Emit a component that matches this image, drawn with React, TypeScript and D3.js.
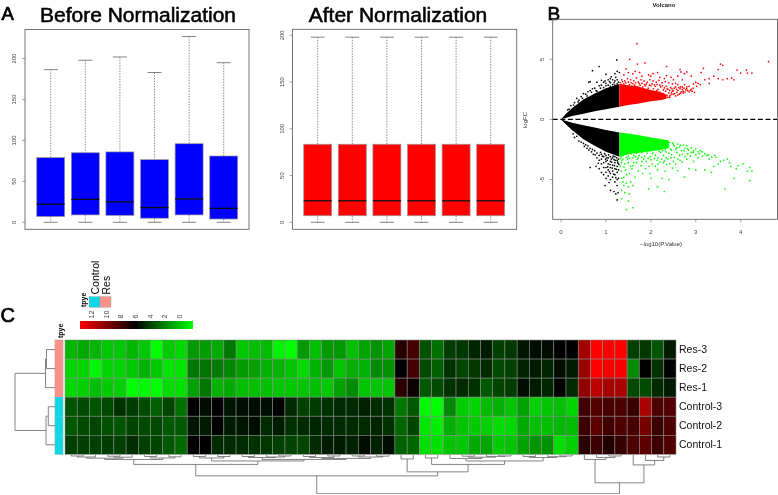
import React from "react";
import * as d3 from "d3";

// ---------- Panel A data ----------
const beforeHigh = [186.5, 198, 202, 183, 227, 195];
const beforeQ3 = [79, 85, 86, 76.5, 96, 81];
const beforeMedian = [22, 28, 25, 18, 28.5, 17];
const beforeQ1 = [7, 9, 8.5, 5, 9, 4];
const beforeLow = [0, 0, 0, 0, 0, 0];
const afterHigh = [198, 198, 198, 198, 198, 198];
const afterQ3 = [83.5, 83.5, 83.5, 83.5, 83.5, 83.5];
const afterMedian = [23, 23, 23, 23, 23, 23];
const afterQ1 = [7, 7, 7, 7, 7, 7];
const afterLow = [0, 0, 0, 0, 0, 0];
const boxTicks = [0, 50, 100, 150, 200];

// ---------- Panel B data ----------
const wedgeX = [0, 0.1, 0.25, 0.5, 0.75, 1, 1.3];
const wedgeUpperTop = [0, 0.42, 0.95, 1.65, 2.15, 2.6, 2.95];
const wedgeUpperBottom = [0, 0.12, 0.28, 0.48, 0.68, 0.85, 1.05];
const wedgeLowerTop = [0, -0.12, -0.28, -0.48, -0.68, -0.88, -1.08];
const wedgeLowerBottom = [0, -0.38, -0.9, -1.65, -2.2, -2.7, -3.1];
const redX = [1.3, 1.5, 1.7, 1.85, 2.0, 2.2, 2.35];
const redBottom = [1.05, 1.2, 1.3, 1.4, 1.5, 1.6, 1.72];
const redTop = [2.95, 2.85, 2.75, 2.6, 2.45, 2.3, 2.05];
const greenX = [1.3, 1.5, 1.8, 2.0, 2.2, 2.4];
const greenTop = [-1.08, -1.18, -1.35, -1.5, -1.62, -1.75];
const greenBottom = [-3.1, -2.9, -2.75, -2.65, -2.55, -2.4];

const blackDots: [number, number][] = [
  [0.7,4.05],[0.85,4.4],[1.24,4.95],[1,3.75],[1.25,4],[1.3,3.9],[1.2,3.8],[0.62,3.1],[0.65,3.15],[0.8,3.1],[0.9,3.25],[1.05,3.3],[1.1,3.4],[1.15,3.3],[0.95,3.1],[1,3],[1.2,3.2],[1.25,3.3],[1.1,3.05],[0.75,2.6],[0.6,2.3],[0.5,2.15],[0.45,1.9],[0.35,1.75],[0.3,1.4],[0.22,1.15],[0.28,1.2],[0.55,2.1],[0.65,2.4],[0.7,2.55],[0.85,2.8],[0.9,2.85],[1,2.8],[1.05,2.85],[1.15,2.9],[1.25,2.95],[0.95,2.65],[0.8,2.35],[0.4,1.6],[1.1,2.75],[1.28,3.1],[1.2,2.85],[0.18,0.85],[0.15,0.8],[0.38,1.45],[0.48,1.75],[0.58,1.95],[0.68,2.25],[0.78,2.4],[0.88,2.6],[0.98,3.2],[1.08,3.15],[1.18,3.05],[1.22,3.5],[1.12,3.55],
  [0.27,-1.2],[0.3,-1.5],[0.35,-1.4],[0.4,-1.8],[0.45,-1.9],[0.5,-2],[0.55,-2.1],[0.6,-2.2],[0.65,-2.4],[0.7,-2.5],[0.72,-2.9],[0.75,-2.6],[0.8,-2.8],[0.8,-3.2],[0.85,-3],[0.85,-3.4],[0.9,-2.9],[0.9,-3.3],[0.9,-3.7],[0.95,-3.1],[0.95,-3.6],[0.95,-4],[1,-3],[1,-3.5],[1,-4],[1,-4.4],[1,-4.9],[1.05,-3.2],[1.05,-3.7],[1.05,-4.2],[1.05,-4.7],[1.1,-3.1],[1.1,-3.5],[1.1,-4],[1.1,-4.5],[1.1,-5],[1.15,-3.2],[1.15,-3.8],[1.15,-4.3],[1.15,-4.8],[1.2,-3.1],[1.2,-3.6],[1.2,-4.1],[1.2,-4.6],[1.2,-5.2],[1.25,-3.4],[1.25,-3.9],[1.25,-4.4],[1.25,-5],[1.25,-5.5],[1.28,-3.3],[1.28,-4.2],[1.28,-4.9],[0.98,-5.5],[1.1,-5.9],[1.18,-6],[1.22,-6.2],[1.27,-6.1],[1.25,-6.7],[0.65,-4],[0.78,-3.9],[0.85,-4.1],[0.9,-4.4],[0.95,-4.6],[1.03,-3.4],[1.08,-4.35],[1.13,-3.55],[1.18,-3.35],[1.22,-4.85],[1.17,-4.55],[1.07,-5.25],[1.27,-3.65],[1.23,-4.15],[0.92,-3.05],[0.88,-2.75],[0.83,-3.65],[1.02,-3.2],[1.04,-3.95],[1.12,-3.3],[1.14,-4.05],[1.16,-3.05],[1.21,-3.4],[1.24,-3.2],[1.26,-3.55],[1.29,-3.75],[1.19,-3.85],[1.09,-3.75],[0.99,-3.3],[0.97,-2.85],[1.06,-2.95],[0.76,-2.95],[0.68,-2.7],[0.62,-2.55],[0.58,-2.4],[0.52,-2.25],
];

const redDots: [number, number][] = [
  [1.69,6.3],[1.53,5],[1.7,4.6],[1.87,4.7],[2.35,4.4],[4.62,4.8],[3.55,4.6],[3.6,4.5],[3.5,4.15],[3.92,4.1],[4.13,4.1],[4,3.85],[4.15,3.85],[4.25,3.85],[3.17,4.25],[3.4,3.6],[3.5,3.4],[3.6,3.3],[3.3,3.4],[3.12,3.9],[3.7,3.4],[3.8,3.45],[3.85,3.3],[2.65,4.15],[2.67,3.95],[2.8,3.95],[2.75,3.8],[2.9,3.6],[3,3.1],[3.05,3],[3.2,3.3],[3.3,3],[2.95,2.95],[2.8,2.7],[2.7,2.5],
  [1.45,4.2],[1.4,3.7],[1.5,3.9],[1.6,3.8],[1.65,4],[1.75,3.9],[1.8,3.6],[1.95,3.7],[2,3.6],[2.05,3.8],[2.15,3.9],[2.2,3.5],[2.3,3.4],[2.35,3.65],[2.45,3.5],[2.5,3.3],[2.6,3.6],[2.7,3.3],[2.55,3],[1.35,3.3],[1.42,3.2],[1.48,3.4],[1.55,3.3],[1.62,3.2],[1.68,3.45],[1.72,3.1],[1.78,3.3],[1.85,3.2],[1.92,3.1],[1.98,3.3],[2.05,3.2],[2.12,3.1],[2.18,3.25],[2.25,3.05],[2.32,3.15],[2.4,3.05],[2.48,2.95],[2.6,2.9],[2.66,2.7],[2.75,2.9],[2.85,2.75],[2.9,2.5],
  [1.35,2.85],[1.4,2.95],[1.46,2.8],[1.52,2.9],[1.58,2.75],[1.64,2.85],[1.7,2.7],[1.76,2.85],[1.82,2.7],[1.88,2.8],[1.94,2.6],[2,2.8],[2.06,2.55],[2.1,2.75],[2.16,2.5],[2.22,2.7],[2.28,2.45],[2.34,2.75],[2.38,2.5],[2.44,2.65],[2.5,2.4],[2.55,2.7],[2.6,2.4],[2.65,2.55],[2.72,2.35],[2.78,2.45],[2.85,2.3],[2.92,2.35],[2.97,2.25],
  [1.88,2.3],[1.92,2],[1.95,2.4],[2,2.1],[2.03,2.3],[2.07,1.85],[2.1,2.15],[2.13,2.4],[2.17,1.95],[2.2,2.25],[2.25,1.9],[2.28,2.15],[2.33,2.35],[2.36,2],[2.4,2.2],[2.45,2.05],[2.48,2.35],[2.53,2.15],[2.58,2.25],[2.63,2.1],[2.68,2.3],[2.05,1.65],[2.12,1.7],[2.18,1.75],[2.24,1.7],[2.3,1.8],[1.9,1.55],[1.95,1.6],[2.01,1.95],[2.38,1.85],[2.42,1.95],
  [1.32,3.05],[1.37,3.15],[1.44,3.05],[1.5,3.1],[1.56,3.05],[1.6,2.98],[1.66,3.05],[1.74,2.98],[1.8,3],[1.86,2.9],[1.9,2.95],[1.97,2.85],[2.03,2.95],[2.08,2.88],[2.14,2.9],[2.2,2.85],[2.26,2.8],[2.3,2.62],[2.36,2.55],[2.42,2.42],[2.47,2.55],[2.52,2.6],[2.57,2.5],[2.62,2.65],[2.7,2.7],[2.74,2.6],[2.8,2.55],[2.42,1.82],[2.46,2.2],[2.5,2.1],[2.55,1.95],[2.6,2.02],[2.66,2.18],[2.72,2.2],[2.76,2.28],[2.82,2.4],[2.88,2.42],[2.94,2.6],[3.02,2.75],[3.1,2.9],
];

const greenDots: [number, number][] = [
  [1.46,-7.5],[1.6,-7.35],[1.35,-6.6],[1.5,-6.8],[3.65,-5.8],[2.3,-6],[1.95,-5.8],[2.15,-5.6],[4.2,-5.1],[4.25,-4.3],[4.15,-4.3],[4.2,-4],[4.05,-3.7],[3.9,-4.1],[3.85,-4.9],[1.35,-5.9],[1.4,-5.5],[1.45,-5.3],[1.5,-5.6],[1.55,-5.2],[1.6,-5.5],[1.65,-4.8],[1.35,-4.9],[1.4,-4.8],[1.82,-4.5],[1.98,-4.5],[2.0,-4.9],[2.25,-4.9],[2.4,-5],[2.75,-4.8],[2.85,-4.1],[3,-4.2],[3.2,-4.2],[3.35,-4.4],[3.4,-3.9],[3.5,-3.7],[3.55,-3.5],[3.7,-3.3],[3.75,-3.6],[3.78,-3.9],[3.3,-3.3],[3.15,-3.05],[3.25,-3],[3.05,-3.2],[2.95,-3.5],[2.8,-3.3],[2.65,-3.4],[2.55,-3.7],[2.45,-3.2],[2.35,-3.75],[2.2,-3.55],[2.1,-3.9],[2.03,-3.7],[1.9,-3.5],[1.78,-3.85],[1.7,-3.3],[1.62,-3.6],[1.55,-3.9],[1.48,-3.3],[1.42,-3.7],[1.36,-3.4],[1.32,-3.9],[1.34,-3.1],[1.44,-4.2],[1.52,-4.5],[1.58,-4.1],[1.72,-4.3],[1.88,-4.1],[2.15,-4.2],[2.32,-4.3],[2.48,-4.05],[2.6,-4.25],[3.45,-3.15],[3.62,-3.4],[3.95,-3.85],
  [1.33,-2.95],[1.38,-3],[1.44,-2.9],[1.5,-3.05],[1.56,-2.85],[1.62,-3],[1.68,-2.8],[1.74,-3],[1.8,-2.75],[1.86,-3.05],[1.92,-2.8],[1.98,-3.1],[2.04,-2.8],[2.1,-3],[2.16,-3.2],[2.22,-2.75],[2.28,-3],[2.34,-3.2],[2.4,-2.8],[2.46,-2.95],[2.52,-3.15],[2.58,-2.75],[2.64,-3],[2.7,-2.9],[2.76,-3.1],[2.82,-2.85],[2.88,-3.05],[2.94,-2.75],[3,-2.95],
  [2.2,-2.3],[2.24,-1.85],[2.28,-2.1],[2.32,-2.55],[2.36,-1.8],[2.4,-2.2],[2.44,-2.45],[2.48,-1.95],[2.52,-2.2],[2.56,-2.5],[2.6,-2.05],[2.64,-2.3],[2.68,-2.6],[2.72,-2.15],[2.76,-2.4],[2.8,-2.2],[2.84,-2.55],[2.9,-2.35],[2.95,-2.6],[3,-2.45],[3.05,-2.7],[3.1,-2.6],[2.26,-2.6],[2.34,-2.7],[2.18,-2.65],[2.12,-2.5],[2.05,-2.55],[1.98,-2.6],
  [1.32,-3.25],[1.38,-3.3],[1.46,-3.15],[1.52,-3.25],[1.6,-3.2],[1.66,-3.1],[1.72,-3.2],[1.8,-3.15],[1.84,-3.3],[1.94,-3.25],[2,-3.35],[2.08,-3.25],[2.14,-3.4],[2.24,-3.3],[2.3,-3.45],[2.38,-3.3],[2.5,-3.5],[2.6,-3.3],[2.7,-3.55],[2.46,-2.55],[2.42,-1.9],[2.5,-2.05],[2.58,-2.35],[2.66,-2.15],[2.74,-2.6],[2.82,-2.45],[2.9,-2.75],[3.08,-2.85],[3.14,-2.7],[3.2,-2.85],[3.28,-2.95],[3.36,-3.15],[3.42,-3],
  [1.34,-3.6],[1.4,-3.95],[1.5,-3.6],[1.6,-3.85],[1.68,-3.6],[1.8,-3.5],[1.96,-3.9],[2.16,-3.7],[2.28,-3.6],[2.42,-3.7],[1.34,-4.3],[1.46,-4.6],[1.38,-5.2],[1.42,-6.1],[1.52,-6.2],
];

// ---------- Panel C data (0 = green, 6 = black, 12 = red) ----------
const rowLabels = ["Res-3", "Res-2", "Res-1", "Control-3", "Control-2", "Control-1"];
const rowTypes = ["Res", "Res", "Res", "Control", "Control", "Control"];
const res3 = [1.7,2,1.7,1.3,1.3,1.7,1.3,0,1.2,0.9,2.4,2.3,2,3.2,1.3,1.5,1.6,0.3,0,2.4,1.5,2.4,2.4,1.5,2.1,2.5,2.1,6.9,7.6,4.1,3.4,4.6,4.7,5.1,5.4,4.5,4.7,5.5,5.6,5.8,5.9,6,9.8,12,11.8,12,4.5,4.7,4,5.3];
const res2 = [1,1,0.2,1,1,1.3,1.8,1.3,0.6,0.6,3.2,3.3,3.1,2.8,2.3,2.2,1.8,1.8,1.4,0.9,1.8,2.4,1.4,1.9,1.8,2.7,2.6,6,7.6,4.3,3.8,4.8,4.4,4.7,5,4.3,4.5,5.2,5.4,5.1,5.6,5.3,9.6,12,11.7,11.8,2.7,6,4.8,6.1];
const res1 = [0.9,1.1,1.5,1.2,1.1,0,0.1,0,0.8,0.7,2.2,3.2,1.8,2,1.5,1.5,1.5,1.3,1.3,1.4,1.5,1.3,2.2,2.7,1.4,1.4,1.4,7,6.4,3.9,4.2,4.8,5,4.8,3.9,4.4,4.6,5.6,5.3,5.1,6,5,9.4,10.4,9.9,10,4.2,4.3,5,5.3];
const control3 = [4,4.2,4,4.3,4.8,4.6,4.2,3.8,4.4,3.4,6,5.6,6,5.5,5.6,5.7,5.7,5.9,5,4.5,4.6,4.8,5,5,5.2,4.9,4.8,3.2,3.9,0.2,0,2.8,1.2,1,1.6,1.8,1.4,2.2,1.1,1.4,1.5,1,7.5,8,7.7,7.8,7.3,10,7.8,8];
const control2 = [3.9,4.2,4.4,4.1,4,4.4,4.2,4.3,3.9,3.9,5.5,5.3,5.9,5.3,5.5,5.6,5,5.4,4.8,5,5.1,5,5,5,5,5.1,4.8,3.6,4.4,0.6,0.4,1.9,1.4,1.2,1.1,0.8,0.9,2,1.5,1.5,1.7,1.6,7.4,8.2,7.5,7.9,7.7,8.8,7.3,7.8];
const control1 = [4.6,4.5,4.5,4.6,4.5,4.9,4.5,4.4,3.9,3.5,6,6,5,5,5,4.8,4.7,4.5,4.4,4.4,5,5.3,5.4,5.2,5.6,5.2,5.8,3.7,3.6,0.8,0.7,1.4,1.3,2,2.1,1.2,1.4,2.2,2.5,2.6,0.8,1.1,7,7.4,6.8,7.3,7.8,8.2,7.4,7.9];
const heatRows = [res3, res2, res1, control3, control2, control1];
const colorbarTicks = [12, 10, 8, 6, 4, 2, 0];

type TreeNode = number | [number, TreeNode, TreeNode];
const rowTree: TreeNode = [40, [9.5, [8.5, 0, 1], 2], [9, [6.7, 3, 4], 5]];
const colTree: TreeNode = [39,
  [21,
    [9.5,
      [4.5,
        [3.2, [2, [1, 0, 1], 2], [2.2, [1.2, 3, 4], 5]],
        [3, [1.5, 6, 7], [1.8, 8, 9]]],
      [6,
        [3, [1.5, 10, 11], [1.5, 12, 13]],
        [4.5,
          [2.5, [1.5, 14, 15], [2, 16, [1, 17, 18]]],
          [3.5, [2.5, [1.5, 19, 20], [1, 21, 22]], [2, [1, 23, 24], [1.2, 25, 26]]]]]],
    [17,
      [4, 27, 28],
      [9.5,
        [3, 29, 30],
        [6,
          [3.5, 31, [2.2, [1.2, 32, 33], [1.4, 34, [1, 35, 36]]]],
          [2.5, [1.5, 37, 38], [1.7, 39, [1, 40, 41]]]]]]],
  [28,
    [4.5, 42, [2.5, 43, [1, 44, 45]]],
    [10, 46, [5.5, 47, [2, 48, 49]]]]];

// ---------- Drawing helpers ----------
const FONT = "'Liberation Sans', Arial, sans-serif";
const GREY = "#666";

function treePath(node: TreeNode, pos: (i: number) => number, dep: (h: number) => number, vertical: boolean) {
  const path = d3.path();
  const walk = (n: TreeNode): [number, number] => {
    if (typeof n === "number") return [pos(n), 0];
    const [h, a, b] = n;
    const [pa, ha] = walk(a);
    const [pb, hb] = walk(b);
    const pt = (p: number, v: number): [number, number] => (vertical ? [p, dep(v)] : [dep(v), p]);
    path.moveTo(...pt(pa, ha));
    path.lineTo(...pt(pa, h));
    path.lineTo(...pt(pb, h));
    path.lineTo(...pt(pb, hb));
    return [(pa + pb) / 2, h];
  };
  walk(node);
  return path.toString();
}

interface BoxProps {
  title: string; titleX: number; color: string;
  x0: number; x1: number; yTop: number; yBottom: number;
  y: d3.ScaleLinear<number, number>; firstCenter: number; lastCenter: number;
  high: number[]; q3: number[]; median: number[]; q1: number[]; low: number[];
}

function BoxPanel(p: BoxProps) {
  const xs = d3.scaleLinear().domain([0, p.high.length - 1]).range([p.firstCenter, p.lastCenter]);
  return (
    <g>
      <text x={p.titleX} y={21.5} fontSize={21} textAnchor="middle" fontFamily={FONT} fill="#000" stroke="#000" strokeWidth={0.55}>{p.title}</text>
      {p.high.map((h, i) => {
        const c = xs(i);
        return (
          <g key={i}>
            <line x1={c} x2={c} y1={p.y(h)} y2={p.y(p.q3[i])} stroke="#777" strokeWidth={0.8} strokeDasharray="1.5 1.2" />
            <line x1={c} x2={c} y1={p.y(p.q1[i])} y2={p.y(p.low[i])} stroke="#777" strokeWidth={0.8} strokeDasharray="1.5 1.2" />
            <line x1={c - 7} x2={c + 7} y1={p.y(h)} y2={p.y(h)} stroke="#777" strokeWidth={0.9} />
            <line x1={c - 7} x2={c + 7} y1={p.y(p.low[i])} y2={p.y(p.low[i])} stroke="#777" strokeWidth={0.9} />
            <rect x={c - 14} width={28} y={p.y(p.q3[i])} height={p.y(p.q1[i]) - p.y(p.q3[i])} fill={p.color} stroke="#999" strokeWidth={0.7} />
            <line x1={c - 14} x2={c + 14} y1={p.y(p.median[i])} y2={p.y(p.median[i])} stroke="#111" strokeWidth={1.3} />
          </g>
        );
      })}
      <rect x={p.x0} y={p.yTop} width={p.x1 - p.x0} height={p.yBottom - p.yTop} fill="none" stroke={GREY} strokeWidth={0.9} />
      {boxTicks.map((t) => (
        <g key={t}>
          <line x1={p.x0 - 3} x2={p.x0} y1={p.y(t)} y2={p.y(t)} stroke={GREY} strokeWidth={0.6} />
          <text transform={`translate(${p.x0 - 9},${p.y(t)}) rotate(-90)`} fontSize={6} textAnchor="middle" fill="#444" fontFamily={FONT}>{t}</text>
        </g>
      ))}
    </g>
  );
}

export default function App() {
  // Panel A
  const yBefore = d3.scaleLinear().domain([0, 200]).range([222.3, 58.6]);
  const yAfter = d3.scaleLinear().domain([0, 200]).range([222.3, 35.3]);

  // Panel B
  const vx = d3.scaleLinear().domain([0, 4]).range([561, 740.7]);
  const vy = d3.scaleLinear().domain([-5, 5]).range([179.5, 59.3]);
  const band = (xs: number[], top: number[], bottom: number[]) =>
    d3.area<number>().x((_, i) => vx(xs[i])).y0((_, i) => vy(bottom[i])).y1((_, i) => vy(top[i]))(xs) ?? "";

  // Panel C
  const colIdx = d3.range(res3.length);
  const cx = d3.scaleBand<number>().domain(colIdx).range([65, 676]);
  const cy = d3.scaleBand<number>().domain(d3.range(rowLabels.length)).range([340, 454.3]);
  const heat = d3.scaleLinear<string>().domain([0, 6, 12]).range(["#00ff00", "#000000", "#ff0000"]);
  const typeColor = d3.scaleOrdinal<string>().domain(["Control", "Res"]).range(["#0fd6e6", "#fb918b"]);
  const barScale = d3.scaleLinear().domain([12, 0]).range([91.7, 179.7]);
  const colCenter = (i: number) => (cx(i) ?? 0) + cx.bandwidth() / 2;
  const rowCenter = (i: number) => (cy(i) ?? 0) + cy.bandwidth() / 2;
  const rowDep = d3.scaleLinear().domain([0, 40]).range([55, 15]);
  const colDep = d3.scaleLinear().domain([0, 39]).range([455, 493.7]);

  return (
    <svg width={778} height={495} viewBox="0 0 778 495" style={{ position: "absolute", left: 0, top: 0 }}>
      <defs>
        <filter id="soft" x="0" y="0" width="100%" height="100%">
          <feGaussianBlur stdDeviation="0.35" />
        </filter>
        <linearGradient id="cbar">
          <stop offset="0" stopColor="#ff0000" />
          <stop offset="0.49" stopColor="#000000" />
          <stop offset="1" stopColor="#00ff00" />
        </linearGradient>
      </defs>
      <rect width={778} height={495} fill="#fff" />
      <g filter="url(#soft)">
        <text x={1.5} y={20} fontSize={18.5} fontFamily={FONT} stroke="#000" strokeWidth={0.7}>A</text>
        <text x={547.5} y={20} fontSize={19} fontFamily={FONT} stroke="#000" strokeWidth={0.7}>B</text>
        <text x={0.5} y={322} fontSize={20} fontFamily={FONT} stroke="#000" strokeWidth={0.7}>C</text>

        <BoxPanel title="Before Normalization" titleX={138} color="#0000ff" x0={25} x1={249} yTop={29.5} yBottom={229.3}
          y={yBefore} firstCenter={50.7} lastCenter={223.7}
          high={beforeHigh} q3={beforeQ3} median={beforeMedian} q1={beforeQ1} low={beforeLow} />
        <BoxPanel title="After Normalization" titleX={398} color="#ff0000" x0={292.5} x1={516.7} yTop={29.3} yBottom={229.3}
          y={yAfter} firstCenter={317.7} lastCenter={490.7}
          high={afterHigh} q3={afterQ3} median={afterMedian} q1={afterQ1} low={afterLow} />

        {/* Volcano */}
        <text x={664} y={6.5} fontSize={6} fontWeight="bold" textAnchor="middle" fontFamily={FONT} fill="#222">Volcano</text>
        <path d={band(wedgeX, wedgeUpperTop, wedgeUpperBottom)} fill="#000" />
        <path d={band(wedgeX, wedgeLowerTop, wedgeLowerBottom)} fill="#000" />
        <path d={band(redX, redTop, redBottom)} fill="#ff0000" />
        <path d={band(greenX, greenTop, greenBottom)} fill="#00ff00" />
        {blackDots.map((d, i) => <circle key={`k${i}`} cx={vx(d[0])} cy={vy(d[1])} r={0.85} fill="#000" />)}
        {redDots.map((d, i) => <circle key={`r${i}`} cx={vx(d[0])} cy={vy(d[1])} r={0.85} fill="#ff0000" />)}
        {greenDots.map((d, i) => <circle key={`g${i}`} cx={vx(d[0])} cy={vy(d[1])} r={0.85} fill="#00ff00" />)}
        <line x1={552.7} x2={777.5} y1={vy(0)} y2={vy(0)} stroke="#000" strokeWidth={1.3} strokeDasharray="5 2.6" />
        <rect x={552.7} y={19.3} width={224.8} height={200} fill="none" stroke={GREY} strokeWidth={0.9} />
        {[-5, 0, 5].map((t) => (
          <g key={t}>
            <line x1={549.7} x2={552.7} y1={vy(t)} y2={vy(t)} stroke={GREY} strokeWidth={0.6} />
            <text transform={`translate(543.5,${vy(t)}) rotate(-90)`} fontSize={6} textAnchor="middle" fill="#444" fontFamily={FONT}>{t}</text>
          </g>
        ))}
        {[0, 1, 2, 3, 4].map((t) => (
          <g key={t}>
            <line x1={vx(t)} x2={vx(t)} y1={219.3} y2={222.3} stroke={GREY} strokeWidth={0.6} />
            <text x={vx(t)} y={233.5} fontSize={6} textAnchor="middle" fill="#444" fontFamily={FONT}>{t}</text>
          </g>
        ))}
        <text transform="translate(527,120) rotate(-90)" fontSize={6} textAnchor="middle" fill="#333" fontFamily={FONT}>logFC</text>
        <text x={661} y={245.5} fontSize={6} textAnchor="middle" fill="#333" fontFamily={FONT}>−log10(P.Value)</text>

        {/* Heatmap legend */}
        <text transform="translate(86,307) rotate(-90)" fontSize={7} fontWeight="bold" fontFamily={FONT}>tpye</text>
        <rect x={89} y={296.7} width={11} height={10.5} fill={typeColor("Control")} stroke="#999" strokeWidth={0.4} />
        <rect x={100} y={296.7} width={11} height={10.5} fill={typeColor("Res")} stroke="#999" strokeWidth={0.4} />
        <text transform="translate(99,294.5) rotate(-90)" fontSize={10.5} fontFamily={FONT}>Control</text>
        <text transform="translate(110,294.5) rotate(-90)" fontSize={10.5} fontFamily={FONT}>Res</text>
        <rect x={80} y={321} width={113} height={8} fill="url(#cbar)" />
        {colorbarTicks.map((t) => (
          <text key={t} transform={`translate(${barScale(t) + 2.2},318.5) rotate(-90)`} fontSize={7} fill="#444" fontFamily={FONT}>{t}</text>
        ))}

        {/* Annotation */}
        <text transform="translate(62.5,338) rotate(-90)" fontSize={7} fontWeight="bold" fontFamily={FONT}>tpye</text>
        {rowTypes.map((t, r) => (
          <rect key={r} x={55} y={cy(r)} width={8} height={cy.bandwidth()} fill={typeColor(t)} stroke={typeColor(t)} strokeWidth={0.3} />
        ))}
        <rect x={55} y={340} width={8} height={114.3} fill="none" stroke="#aaa" strokeWidth={0.5} />

        {/* Heatmap */}
        {heatRows.map((row, r) =>
          row.map((v, c) => (
            <rect key={`${r}-${c}`} x={cx(c)} y={cy(r)} width={cx.bandwidth()} height={cy.bandwidth()} fill={heat(v)} stroke="#8a8a8a" strokeWidth={0.55} />
          ))
        )}
        {rowLabels.map((l, r) => (
          <text key={l} x={679} y={rowCenter(r) + 3.6} fontSize={10.5} fontFamily={FONT} fill="#111">{l}</text>
        ))}

        {/* Dendrograms */}
        <path d={treePath(rowTree, rowCenter, rowDep, false)} fill="none" stroke="#666" strokeWidth={0.8} />
        <path d={treePath(colTree, colCenter, colDep, true)} fill="none" stroke="#666" strokeWidth={0.8} />
      </g>
    </svg>
  );
}
